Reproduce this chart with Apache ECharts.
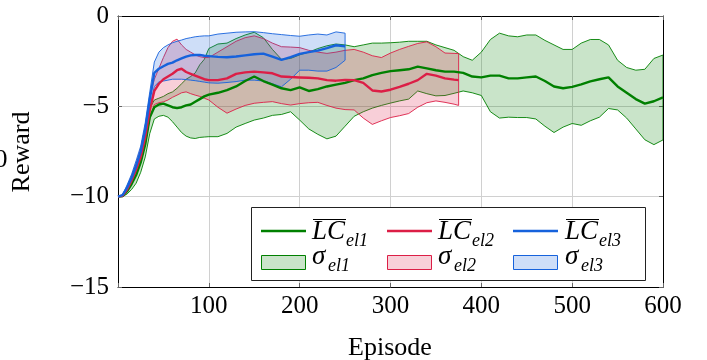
<!DOCTYPE html>
<html><head><meta charset="utf-8">
<script src="https://cdn.jsdelivr.net/npm/echarts@6/dist/echarts.min.js"></script>
<style>html,body{margin:0;padding:0;background:#fff}#c{width:707px;height:360px}</style>
</head><body><div id="c"></div>
<script>
// ---------- data ----------
const epsG = [0,5,10,15,20,25,30,35,40,45,50,55,60,65,70,75,80,85,90,95,100,
  110,120,130,140,150,160,170,180,190,200,210,220,230,240,250,260,270,280,290,300,
  310,320,330,340,350,360,370,380,390,400,410,420,430,440,450,460,470,480,490,500,
  510,520,530,540,550,560,570,580,590,600];
const meanG = [-10,-9.97,-9.7,-9.3,-8.8,-8.1,-7.1,-5.6,-5.05,-4.9,-4.85,-4.95,-5.05,-5.1,-5.05,-4.95,-4.9,-4.75,-4.6,-4.45,-4.35,
  -4.25,-4.1,-3.9,-3.6,-3.35,-3.6,-3.8,-4.0,-4.1,-3.95,-4.15,-4.05,-3.9,-3.8,-3.7,-3.55,-3.45,-3.27,-3.15,-3.05,
  -3.0,-2.95,-2.8,-2.9,-3.0,-3.08,-3.08,-3.15,-3.35,-3.4,-3.3,-3.3,-3.45,-3.45,-3.4,-3.35,-3.6,-3.9,-4.0,-3.92,
  -3.78,-3.62,-3.5,-3.4,-3.9,-4.25,-4.6,-4.85,-4.72,-4.5];
const upG = [-10,-9.95,-9.55,-9.0,-8.4,-7.6,-6.5,-5.1,-4.65,-4.55,-4.45,-4.3,-4.2,-4.0,-3.75,-3.5,-3.35,-3.15,-2.7,-2.4,-1.8,
  -1.55,-1.5,-1.25,-1.05,-0.9,-1.2,-1.85,-2.4,-2.35,-2.15,-2.0,-1.8,-1.65,-1.55,-1.6,-1.7,-1.6,-1.5,-1.5,-1.48,
  -1.45,-1.4,-1.4,-1.4,-1.6,-1.75,-1.9,-2.25,-2.45,-2.0,-1.3,-0.95,-1.1,-1.15,-1.05,-1.05,-1.35,-1.6,-1.85,-1.85,
  -1.5,-1.3,-1.3,-1.6,-2.45,-2.85,-3.0,-2.95,-2.35,-2.16];
const loG = [-10,-10,-9.85,-9.6,-9.25,-8.65,-7.8,-6.5,-5.7,-5.55,-5.5,-5.6,-5.85,-6.15,-6.45,-6.65,-6.75,-6.78,-6.72,-6.7,-6.68,
  -6.68,-6.5,-6.15,-5.95,-5.76,-5.65,-5.5,-5.45,-5.3,-5.76,-6.25,-6.55,-6.8,-6.65,-6.1,-5.55,-5.3,-5.1,-4.95,-4.82,
  -4.7,-4.6,-4.15,-4.3,-4.42,-4.4,-4.28,-4.15,-4.25,-4.4,-5.3,-5.65,-5.6,-5.62,-5.62,-5.7,-6.1,-6.45,-6.15,-5.95,
  -6.05,-5.8,-5.6,-5.12,-5.2,-5.65,-6.25,-6.85,-7.12,-6.86];

const epsR = [0,5,10,15,20,25,30,35,40,45,50,55,60,65,70,75,80,85,90,95,100,
  110,120,130,140,150,160,170,180,190,200,210,220,230,240,250,260,270,280,290,300,
  310,320,330,340,350,360,370,375];
const meanR = [-10,-9.95,-9.6,-9.1,-8.5,-7.8,-6.7,-5.2,-4.15,-3.75,-3.5,-3.35,-3.2,-3.0,-2.92,-3.1,-3.2,-3.3,-3.4,-3.5,-3.55,
  -3.55,-3.45,-3.2,-3.12,-3.08,-3.12,-3.17,-3.35,-3.38,-3.4,-3.42,-3.45,-3.55,-3.58,-3.54,-3.55,-3.7,-4.12,-4.18,-4.08,
  -3.92,-3.75,-3.55,-3.2,-3.3,-3.45,-3.52,-3.55];
const upR = [-10,-9.92,-9.45,-8.85,-8.15,-7.35,-6.1,-4.5,-3.5,-2.9,-2.3,-1.75,-1.4,-1.28,-1.6,-1.85,-2.0,-2.15,-2.25,-2.3,-2.3,
  -2.0,-1.7,-1.4,-1.2,-1.1,-1.25,-1.5,-1.7,-1.72,-1.75,-1.9,-2.0,-2.07,-2.0,-1.9,-1.85,-2.0,-2.2,-2.3,-2.05,
  -1.85,-1.68,-1.52,-1.43,-1.7,-2.05,-2.07,-2.08];
const loR = [-10,-9.97,-9.7,-9.3,-8.8,-8.1,-7.1,-5.7,-4.9,-4.8,-4.75,-4.65,-4.5,-4.38,-4.25,-4.2,-4.3,-4.38,-4.45,-4.55,-4.65,
  -5.05,-5.38,-5.15,-4.95,-4.83,-4.78,-4.74,-4.85,-4.93,-4.85,-4.8,-4.78,-4.95,-5.1,-5.18,-5.2,-5.65,-6.0,-5.8,-5.62,
  -5.52,-5.4,-5.05,-4.8,-4.7,-4.78,-4.88,-4.95];

const epsB = [0,5,10,15,20,25,30,35,40,45,50,55,60,65,70,75,80,85,90,95,100,
  110,120,130,140,150,160,170,180,190,200,210,220,230,240,250];
const meanB = [-10,-9.92,-9.5,-8.95,-8.3,-7.5,-6.3,-4.6,-3.15,-2.92,-2.78,-2.65,-2.58,-2.45,-2.35,-2.25,-2.18,-2.16,-2.15,-2.2,-2.22,
  -2.26,-2.28,-2.24,-2.18,-2.12,-2.08,-2.25,-2.43,-2.28,-2.1,-2.0,-1.92,-1.78,-1.62,-1.68];
const upB = [-10,-9.9,-9.35,-8.75,-8.0,-7.2,-5.9,-4.2,-2.55,-2.0,-1.75,-1.6,-1.48,-1.4,-1.33,-1.25,-1.2,-1.15,-1.12,-1.1,-1.1,
  -1.0,-0.95,-0.9,-0.88,-0.87,-0.92,-0.98,-1.03,-1.08,-1.12,-1.05,-1.0,-1.05,-0.88,-0.95];
const loB = [-10,-9.95,-9.6,-9.1,-8.5,-7.8,-6.7,-5.1,-3.9,-3.65,-3.6,-3.55,-3.5,-3.5,-3.5,-3.52,-3.55,-3.58,-3.62,-3.66,-3.7,
  -3.72,-3.68,-3.63,-3.55,-3.55,-3.6,-3.75,-3.92,-3.5,-3.0,-3.0,-3.05,-3.05,-2.85,-2.45];

const xTicks = [0,100,200,300,400,500,600];
const yTicks = [-15,-10,-5,0];
const legendSubs = ['el1','el2','el3'];

// ---------- styling ----------
const COLS = ['#008000','#dc1e46','#1662dc'];
const FILLS = ['rgba(0,128,0,0.21)','rgba(220,30,70,0.21)','rgba(22,98,220,0.21)'];
const SERIF = '"Liberation Serif","DejaVu Serif",serif';

function pairs(xs, ys){ return xs.map((x,i)=>[x, ys[i]]); }
function bandSeries(xs, lo, hi, col, fill){
  return {
    type:'custom', silent:true, z:2, clip:true,
    data: xs.map((x,i)=>[x, lo[i], hi[i]]),
    encode:{x:0, y:[1,2]},
    renderItem:(params, api) => {
      if (params.dataIndex !== 0) return null;
      const pts = [];
      for (let i=0;i<xs.length;i++) pts.push(api.coord([xs[i], hi[i]]));
      for (let i=xs.length-1;i>=0;i--) pts.push(api.coord([xs[i], lo[i]]));
      return {type:'polygon', shape:{points:pts},
        style:{fill:fill, stroke:col, lineWidth:0.9, lineJoin:'round'}};
    }
  };
}
function meanSeries(xs, ys, col){
  return {type:'line', data:pairs(xs, ys), symbol:'none', silent:true, lineStyle:{color:col, width:2.4}, z:3};
}

const series = [
  bandSeries(epsG, loG, upG, COLS[0], FILLS[0]), meanSeries(epsG, meanG, COLS[0]),
  bandSeries(epsR, loR, upR, COLS[1], FILLS[1]), meanSeries(epsR, meanR, COLS[1]),
  bandSeries(epsB, loB, upB, COLS[2], FILLS[2]), meanSeries(epsB, meanB, COLS[2])
];

const tickStyle = {show:true, inside:true, length:4, lineStyle:{color:'#666', width:1}};
const axisLineStyle = {show:true, onZero:false, lineStyle:{color:'#000', width:1}};
const xBase = {type:'value', min:xTicks[0], max:xTicks[xTicks.length-1], interval:xTicks[1]-xTicks[0]};
const yBase = {type:'value', min:yTicks[0], max:yTicks[yTicks.length-1], interval:yTicks[1]-yTicks[0]};

// ---------- legend (graphic) ----------
const graphic = [];
graphic.push({type:'rect', z:100, shape:{x:251.5, y:207.5, width:394, height:73},
  style:{fill:'#fff', stroke:'#222', lineWidth:1}});
const lx = [261, 387, 513], tx = [312, 438, 565];
for (let i=0;i<3;i++){
  graphic.push({type:'line', z:101, shape:{x1:lx[i], y1:231, x2:lx[i]+45, y2:231},
    style:{stroke:COLS[i], lineWidth:2.6}});
  graphic.push({type:'rect', z:101, shape:{x:lx[i]+0.5, y:255.5, width:44, height:14},
    style:{fill:FILLS[i], stroke:COLS[i], lineWidth:1}});
  graphic.push({type:'text', z:101, style:{text:'LC', x:tx[i], y:232, fill:'#000',
    font:'italic 27px '+SERIF, verticalAlign:'middle', align:'left'}});
  graphic.push({type:'line', z:101, shape:{x1:tx[i]+1, y1:219.5, x2:tx[i]+34, y2:219.5},
    style:{stroke:'#000', lineWidth:1}});
  graphic.push({type:'text', z:101, style:{text:legendSubs[i], x:tx[i]+34, y:241, fill:'#000',
    font:'italic 18px '+SERIF, verticalAlign:'middle', align:'left'}});
  graphic.push({type:'text', z:101, style:{text:'\u03c3', x:tx[i], y:257, fill:'#000',
    font:'italic 27px '+SERIF, verticalAlign:'middle', align:'left'}});
  graphic.push({type:'text', z:101, style:{text:legendSubs[i], x:tx[i]+16, y:266, fill:'#000',
    font:'italic 18px '+SERIF, verticalAlign:'middle', align:'left'}});
}
// axis titles
graphic.push({type:'text', z:50, style:{text:'Episode', x:390, y:348, fill:'#000',
  font:'26px '+SERIF, align:'center', verticalAlign:'middle'}});
graphic.push({type:'text', z:50, rotation:Math.PI/2, x:22, y:152, style:{text:'Reward', x:0, y:0, fill:'#000',
  font:'26px '+SERIF, align:'center', verticalAlign:'middle'}});
graphic.push({type:'text', z:50, style:{text:'0', x:1, y:160, fill:'#000',
  font:'26px '+SERIF, align:'center', verticalAlign:'middle'}});

const chart = echarts.init(document.getElementById('c'), null, {renderer:'canvas'});
chart.setOption({
  animation:false,
  backgroundColor:'#fff',
  grid:{left:118, right:44, top:16, bottom:73, containLabel:false},
  xAxis:[
    Object.assign({}, xBase, {position:'bottom', axisLine:axisLineStyle, axisTick:tickStyle,
      axisLabel:{color:'#000', fontFamily:SERIF, fontSize:25, margin:7,
        formatter:v => v===xTicks[0] ? '' : String(v)},
      splitLine:{show:true, lineStyle:{color:'#d0d0d0', width:1}}}),
    Object.assign({}, xBase, {position:'top', axisLine:axisLineStyle, axisTick:tickStyle,
      axisLabel:{show:false}, splitLine:{show:false}})
  ],
  yAxis:[
    Object.assign({}, yBase, {position:'left', axisLine:axisLineStyle, axisTick:tickStyle,
      axisLabel:{color:'#000', fontFamily:SERIF, fontSize:25, margin:9,
        formatter:v => v<0 ? '\u2212'+(-v) : String(v)},
      splitLine:{show:true, lineStyle:{color:'#d0d0d0', width:1}}}),
    Object.assign({}, yBase, {position:'right', axisLine:axisLineStyle, axisTick:tickStyle,
      axisLabel:{show:false}, splitLine:{show:false}})
  ],
  series: series,
  graphic: graphic
});
</script></body></html>
